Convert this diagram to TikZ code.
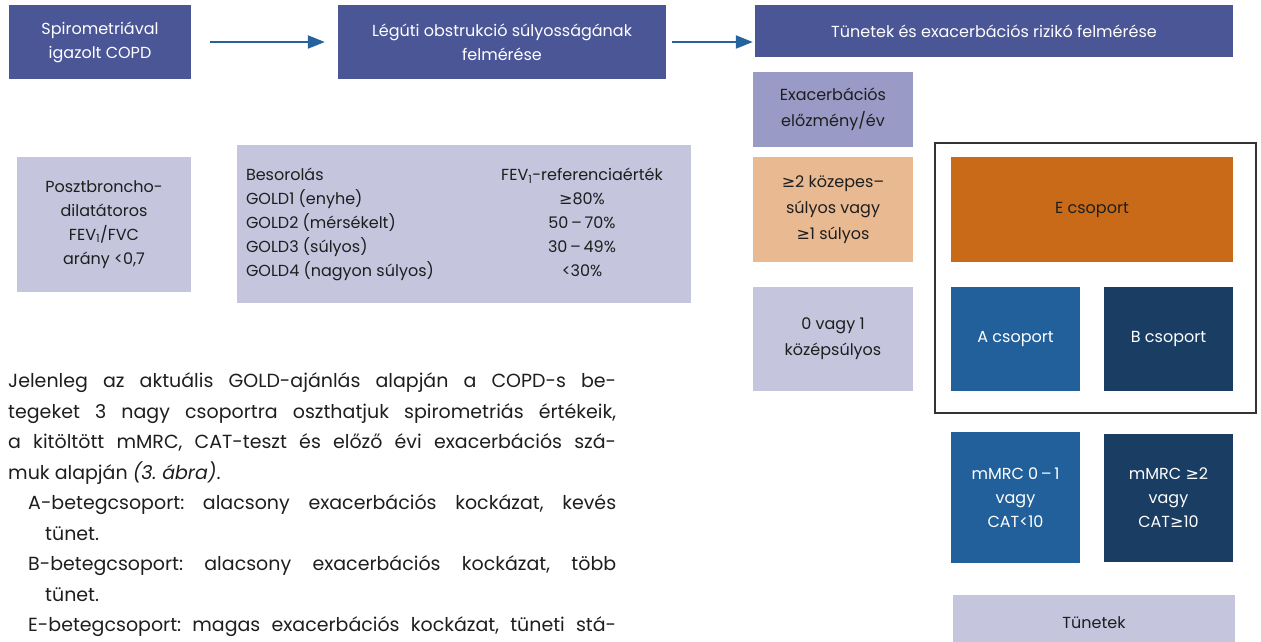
\documentclass[tikz,border=0pt]{standalone}
\usepackage{fontspec}
\setmainfont{Poppins}
\newfontfamily\symfont{DejaVu Sans}
\usepackage{array}
\usetikzlibrary{arrows.meta}
\frenchspacing

\definecolor{titleblue}{RGB}{75,86,150}
\definecolor{arrowblue}{RGB}{38,98,158}
\definecolor{lavender}{RGB}{197,197,222}
\definecolor{lavmid}{RGB}{153,154,197}
\definecolor{peach}{RGB}{233,185,145}
\definecolor{grporange}{RGB}{201,106,24}
\definecolor{grpblue}{RGB}{34,96,155}
\definecolor{grpnavy}{RGB}{25,61,99}
\definecolor{txtdark}{RGB}{30,30,30}

\newcommand{\gesym}{{\symfont ≥}}

\begin{document}
\begin{tikzpicture}[x=1pt, y=-1pt,
  box/.style={rectangle, inner sep=2pt, align=center, text=txtdark, font=\fontsize{16}{24}\selectfont},
  titlebox/.style={box, fill=titleblue, text=white},
  lightbox/.style={box, fill=lavender},
  flow/.style={-{Triangle[length=17pt,width=13pt]}, line width=2.2pt, draw=arrowblue, fill=arrowblue}
]
\clip (0,0) rectangle (1261,641);

% Top row
\node[titlebox, minimum width=182pt, minimum height=74pt] (copd) at (100,42) {Spirometriával\\igazolt COPD};
\node[titlebox, minimum width=328pt, minimum height=74pt] (obstr) at (502,42) {Légúti obstrukció súlyosságának\\felmérése};
\node[titlebox, minimum width=478pt, minimum height=52pt] (risk) at (994,31) {Tünetek és exacerbációs rizikó felmérése};

% Arrows
\draw[flow, shorten <=19pt, shorten >=13pt] (copd.east) -- (obstr.west);
\draw[flow, shorten <=6pt, shorten >=2pt] (obstr.east) -- (obstr.east -| risk.west);

% Spirometry
\node[lightbox, minimum width=174pt, minimum height=135pt] (ratio) at (104,224.5) {Posztbroncho-\\dilatátoros\\FEV\textsubscript{1}/FVC\\arány <0,7};
\node[rectangle, fill=lavender, text=txtdark, inner sep=0pt, minimum width=454pt, minimum height=158pt, font=\fontsize{16}{24}\selectfont] (gold) at (464,224) {%
\begin{tabular}{@{}p{236pt}@{}>{\centering\arraybackslash}p{200pt}@{}}
Besorolás & FEV\textsubscript{1}-referenciaérték\\
GOLD1 (enyhe) & \gesym80\%\\
GOLD2 (mérsékelt) & 50\,–\,70\%\\
GOLD3 (súlyos) & 30\,–\,49\%\\
GOLD4 (nagyon súlyos) & <30\%
\end{tabular}};

% Exacerbation column
\node[box, fill=lavmid, minimum width=160pt, minimum height=75pt, font=\fontsize{16}{26}\selectfont] (exac) at (833,109.5) {Exacerbációs\\előzmény/év};
\node[box, fill=peach, minimum width=160pt, minimum height=105pt, font=\fontsize{16}{26}\selectfont] (high) at (833,209.5) {\gesym2 közepes–\\súlyos vagy\\\gesym1 súlyos};
\node[lightbox, minimum width=160pt, minimum height=104pt, font=\fontsize{16}{26}\selectfont] (low) at (833,339) {0 vagy 1\\középsúlyos};

% Groups
\node[draw=black!80, line width=1.5pt, minimum width=321pt, minimum height=270pt] (frame) at (1095.5,278) {};
\node[box, fill=grporange, minimum width=282pt, minimum height=105pt] (grpE) at (1092,209.5) {E csoport};
\node[box, fill=grpblue, text=white, minimum width=129pt, minimum height=104pt] (grpA) at (1015.5,339) {A csoport};
\node[box, fill=grpnavy, text=white, minimum width=129pt, minimum height=104pt] (grpB) at (1168.5,339) {B csoport};

% Symptoms
\node[box, fill=grpblue, text=white, minimum width=129pt, minimum height=131pt] (mmrclow) at (1015.5,497.5) {mMRC 0\,–\,1\\vagy\\CAT<10};
\node[box, fill=grpnavy, text=white, minimum width=129pt, minimum height=128pt] (mmrchigh) at (1168.5,498) {mMRC \gesym2\\vagy\\CAT\gesym10};
\node[lightbox, minimum width=282pt, minimum height=56pt] (symp) at (1094,623) {Tünetek};

% Text
\node[anchor=north west, inner sep=0pt, align=left, text=txtdark, font=\fontsize{19}{30.5}\selectfont] (para) at (8,366) {%
\strut\makebox[608pt][s]{Jelenleg az aktuális GOLD-ajánlás alapján a COPD-s be-}\\
\strut\makebox[608pt][s]{tegeket 3 nagy csoportra oszthatjuk spirometriás értékeik,}\\
\strut\makebox[608pt][s]{a kitöltött mMRC, CAT-teszt és előző évi exacerbációs szá-}\\
\strut muk alapján \textit{(3. ábra)}.\\
\strut\hspace*{20pt}\makebox[588pt][s]{A-betegcsoport: alacsony exacerbációs kockázat, kevés}\\
\strut\hspace*{37pt}tünet.\\
\strut\hspace*{20pt}\makebox[588pt][s]{B-betegcsoport: alacsony exacerbációs kockázat, több}\\
\strut\hspace*{37pt}tünet.\\
\strut\hspace*{20pt}\makebox[588pt][s]{E-betegcsoport: magas exacerbációs kockázat, tüneti stá-}};
\end{tikzpicture}
\end{document}
